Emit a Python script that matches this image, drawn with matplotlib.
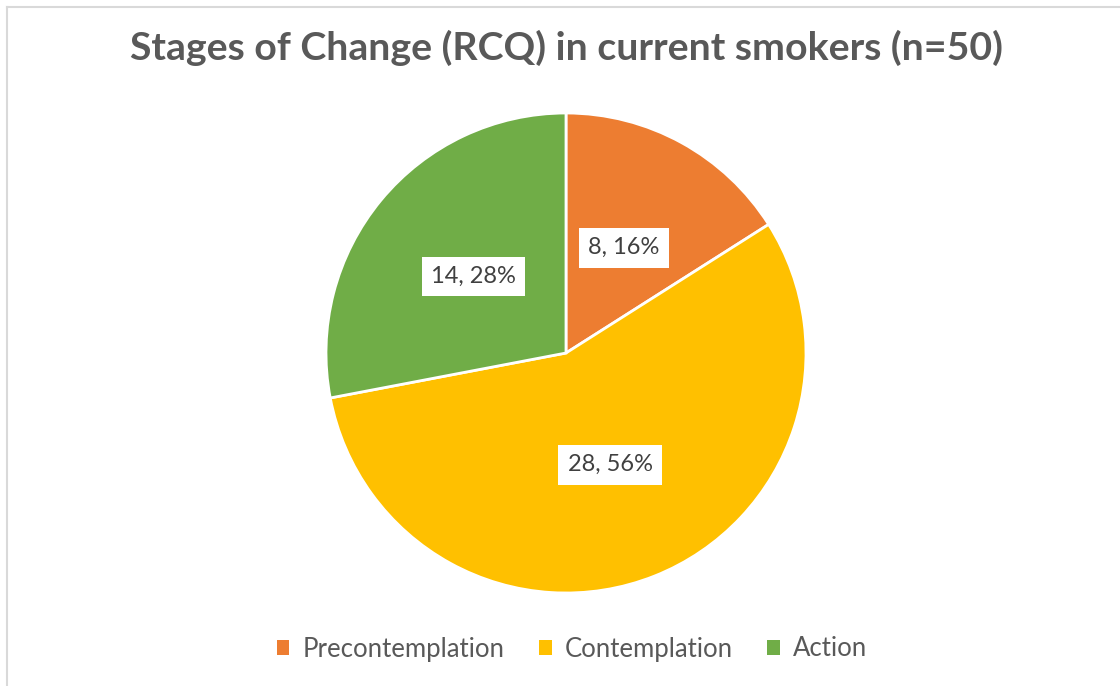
import matplotlib.pyplot as plt
from matplotlib.lines import Line2D
from matplotlib.patches import Patch

# Stages of change among current smokers
stages = ['Precontemplation', 'Contemplation', 'Action']
counts = [8, 28, 14]
colors = ['#ED7D31', '#FFC000', '#70AD47']
total = sum(counts)

plt.rcParams['font.family'] = ['Lato', 'DejaVu Sans']

fig = plt.figure(figsize=(11.2, 6.86), dpi=100)

# thin grey chart-area border (top and left edges visible)
fig.add_artist(Line2D([6.5 / 1120, 6.5 / 1120], [0, 1 - 7 / 686], color='#D9D9D9', lw=1.5))
fig.add_artist(Line2D([6.5 / 1120, 1], [1 - 7 / 686, 1 - 7 / 686], color='#D9D9D9', lw=1.5))

ax = fig.add_axes([(566 - 240) / 1120, (686 - 593) / 686, 480 / 1120, 480 / 686])

def fmt(pct):
    n = int(round(pct * total / 100))
    return f'{n}, {pct:.0f}%'

wedges, texts, autotexts = ax.pie(
    counts, colors=colors, startangle=90, counterclock=False,
    autopct=fmt, pctdistance=0.5, radius=1,
    wedgeprops=dict(edgecolor='white', linewidth=2),
)
for t in autotexts:
    t.set_fontsize(17)
    t.set_color('#404040')
    t.set_bbox(dict(facecolor='white', edgecolor='none', boxstyle='square,pad=0.4'))
ax.set_xlim(-1.0, 1.0)
ax.set_ylim(-1.0, 1.0)
ax.set_aspect('equal')
ax.axis('off')

fig.text(566 / 1120, 1 - 48 / 686, 'Stages of Change (RCQ) in current smokers (n=50)',
         ha='center', va='center', fontsize=28.3, fontweight='bold', color='#595959')

handles = [Patch(facecolor=c, edgecolor='none') for c in colors]
fig.legend(handles, stages, loc='center', bbox_to_anchor=(572 / 1120, 1 - 649 / 686),
           ncol=3, frameon=False, fontsize=18.5, labelcolor='#595959',
           handlelength=0.5, handleheight=0.5, handletextpad=0.5, columnspacing=1.35)

fig.savefig('out.png', dpi=100, facecolor='white')
